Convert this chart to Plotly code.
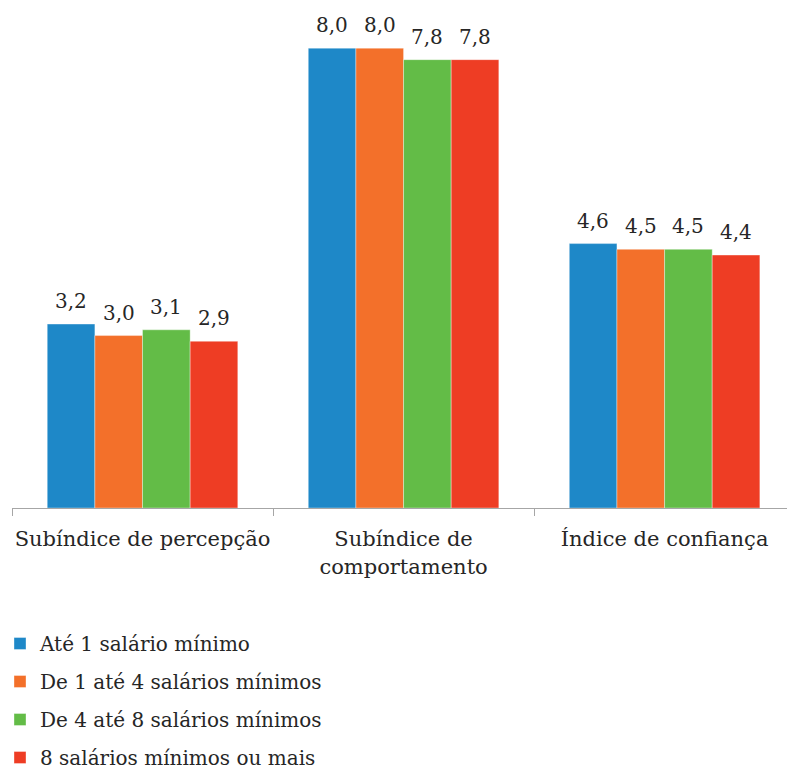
import plotly.graph_objects as go

# Índices por faixa de renda familiar
categorias = ["Subíndice de percepção", "Subíndice de<br>comportamento", "Índice de confiança"]
faixas = [
    "Até 1 salário mínimo",
    "De 1 até 4 salários mínimos",
    "De 4 até 8 salários mínimos",
    "8 salários mínimos ou mais",
]
valores = [
    [3.2, 8.0, 4.6],
    [3.0, 8.0, 4.5],
    [3.1, 7.8, 4.5],
    [2.9, 7.8, 4.4],
]
cores = ["#1e88c8", "#f3702a", "#63bc47", "#ee3d24"]

FONTE = "DejaVu Serif"
COR_TEXTO = "#262626"
BARGAP = 0.27

fig = go.Figure()
for i, (nome, vals, cor) in enumerate(zip(faixas, valores, cores)):
    fig.add_trace(go.Bar(
        x=categorias, y=vals, name=nome, legendgroup=str(i),
        marker=dict(color=cor, line=dict(color="rgba(255,255,255,0.6)", width=0.6)),
    ))

# rótulos de valor acima de cada barra
n = len(faixas)
largura = (1 - BARGAP) / n
for i, vals in enumerate(valores):
    for c, v in enumerate(vals):
        fig.add_annotation(
            x=c + (i - (n - 1) / 2) * largura, y=v, xref="x", yref="y",
            text=f"{v:.1f}".replace(".", ","), showarrow=False,
            yanchor="bottom", yshift=9,
            font=dict(family=FONTE, size=20, color=COR_TEXTO),
        )

fig.update_layout(
    width=787, height=769,
    margin=dict(l=12, r=0, t=20, b=261),
    paper_bgcolor="white", plot_bgcolor="white",
    barmode="group", bargap=BARGAP, bargroupgap=0,
    font=dict(family=FONTE, size=20, color=COR_TEXTO),
    showlegend=True,
    legend=dict(
        xref="paper", x=-0.017, xanchor="left",
        yref="container", y=1 - 624 / 769, yanchor="top",
        orientation="v", tracegroupgap=9,
        font=dict(family=FONTE, size=20, color=COR_TEXTO),
    ),
    xaxis=dict(
        type="category", range=[-0.5, 2.469],
        showline=True, linecolor="#a6a6a6", linewidth=1.3,
        ticks="outside", tickson="boundaries", ticklen=7, tickcolor="#a6a6a6",
        ticklabelstandoff=12, tickangle=0, automargin=False,
        tickfont=dict(family=FONTE, size=21, color=COR_TEXTO),
        showgrid=False, zeroline=False,
    ),
    yaxis=dict(range=[0, 8.49], visible=False, showgrid=False, zeroline=False),
)

fig.write_html("out.html")
